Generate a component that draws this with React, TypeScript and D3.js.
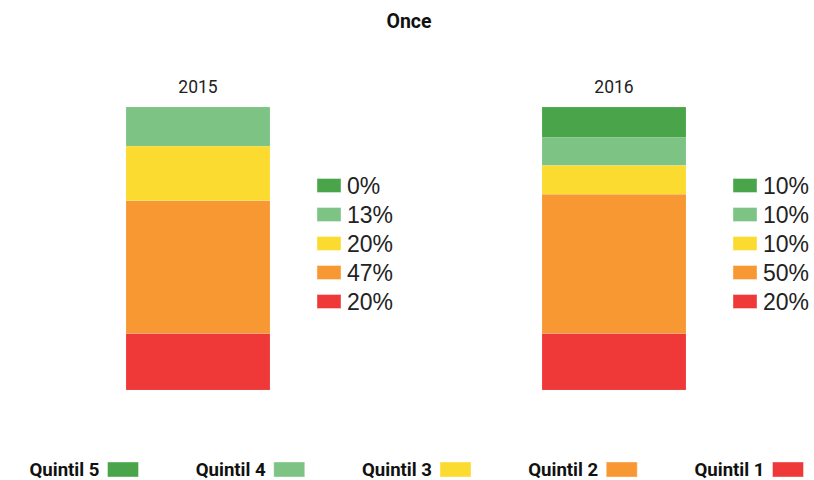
import React, { useEffect, useRef } from "react";
import * as d3 from "d3";

const title = "Once";
const years = ["2015", "2016"];
// quintiles from bottom (Quintil 1) to top (Quintil 5)
const quintiles = ["Quintil 1", "Quintil 2", "Quintil 3", "Quintil 4", "Quintil 5"];
const colors = ["#ef3838", "#f79832", "#fbdb30", "#7dc383", "#4aa54a"];
// share of each quintile per year, in %
const values2015 = [20, 46.9, 19.3, 13.8, 0];
const values2016 = [20, 49.2, 10.2, 9.8, 10.8];
const labels2015 = ["20%", "47%", "20%", "13%", "0%"];
const labels2016 = ["20%", "50%", "10%", "10%", "10%"];

const W = 814;
const H = 480;

export default function App() {
  const svgRef = useRef<SVGSVGElement>(null);

  useEffect(() => {
    const svg = d3.select(svgRef.current);
    svg.selectAll("*").remove();

    const rows = years.map((yr, i) => {
      const vals = i === 0 ? values2015 : values2016;
      const r: any = { year: yr };
      quintiles.forEach((q, j) => (r[q] = vals[j]));
      return r;
    });
    const labels = [labels2015, labels2016];

    const stack = d3.stack().keys(quintiles);
    const series = stack(rows);

    const x = d3.scalePoint().domain(years).range([198, 614]);
    const barW = 144;
    const y = d3.scaleLinear().domain([0, 100]).range([390, 107]);
    const color = d3.scaleOrdinal<string>().domain(quintiles).range(colors);

    svg
      .append("text")
      .attr("x", 409)
      .attr("y", 28)
      .attr("text-anchor", "middle")
      .attr("font-family", "Roboto, sans-serif")
      .attr("font-weight", "bold")
      .attr("font-size", 19.5)
      .attr("fill", "#111")
      .text(title);

    // bars
    series.forEach((s) => {
      svg
        .append("g")
        .selectAll("rect")
        .data(s)
        .join("rect")
        .attr("x", (d) => x(d.data.year) - barW / 2)
        .attr("y", (d) => y(d[1]))
        .attr("width", barW)
        .attr("height", (d) => y(d[0]) - y(d[1]))
        .attr("fill", color(s.key))
        .attr("stroke", "#fff")
        .attr("stroke-opacity", 0.25)
        .attr("stroke-width", 0.5);
    });

    // year labels
    svg
      .append("g")
      .selectAll("text")
      .data(years)
      .join("text")
      .attr("x", (d) => x(d))
      .attr("y", 92.5)
      .attr("text-anchor", "middle")
      .attr("font-family", "Roboto, sans-serif")
      .attr("font-size", 17.5)
      .attr("fill", "#222")
      .text((d) => d);

    // inline legends (top: Quintil 5)
    const rowY = d3
      .scalePoint()
      .domain(quintiles.slice().reverse())
      .range([185.5, 301.5]);
    years.forEach((yr, i) => {
      const g = svg.append("g").attr("transform", `translate(${x(yr) + 119},0)`);
      quintiles.forEach((q, j) => {
        const cy = rowY(q);
        g.append("rect")
          .attr("x", 0)
          .attr("y", cy - 7)
          .attr("width", 24)
          .attr("height", 14)
          .attr("fill", color(q))
          .attr("stroke", "#fff")
          .attr("stroke-opacity", 0.4);
        g.append("text")
          .attr("x", 30)
          .attr("y", cy)
          .attr("dy", "0.36em")
          .attr("font-family", "'Liberation Sans', Arial, sans-serif")
          .attr("font-size", 23)
          .attr("fill", "#222")
          .text(labels[i][j]);
      });
    });

    // bottom legend
    const legX = d3
      .scalePoint()
      .domain(quintiles.slice().reverse())
      .range([107.5, 772.5]);
    const lg = svg.append("g");
    quintiles
      .slice()
      .reverse()
      .forEach((q) => {
        lg.append("rect")
          .attr("x", legX(q))
          .attr("y", 462)
          .attr("width", 31)
          .attr("height", 15)
          .attr("fill", color(q))
          .attr("stroke", "#fff")
          .attr("stroke-opacity", 0.4);
        lg.append("text")
          .attr("x", legX(q) - 8)
          .attr("y", 475.5)
          .attr("text-anchor", "end")
          .attr("font-family", "Roboto, sans-serif")
          .attr("font-weight", "bold")
          .attr("font-size", 19)
          .attr("textLength", 70)
          .attr("lengthAdjust", "spacingAndGlyphs")
          .attr("fill", "#111")
          .text(q);
      });
  }, []);

  return (
    <svg
      ref={svgRef}
      width={W}
      height={H}
      style={{ position: "absolute", left: 0, top: 0, background: "#fff" }}
    ></svg>
  );
}
